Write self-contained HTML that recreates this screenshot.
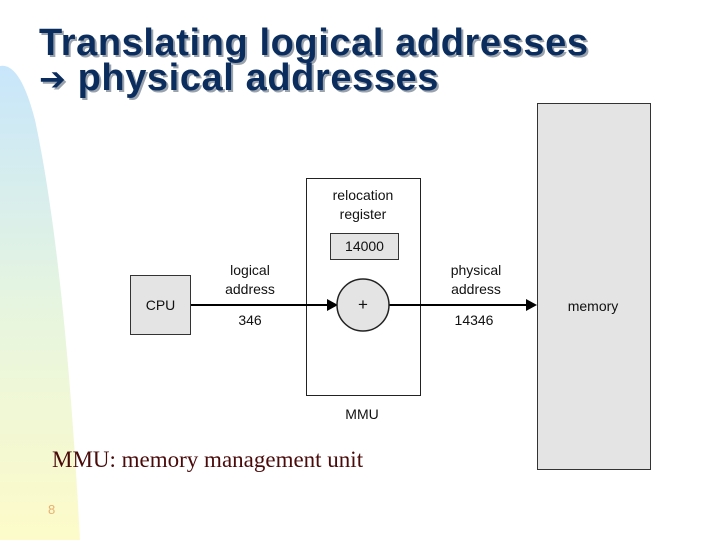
<!DOCTYPE html>
<html><head><meta charset="utf-8"><style>
body{margin:0;width:720px;height:540px;position:relative;overflow:hidden;background:#fff;font-family:"Liberation Sans",sans-serif}
.a{position:absolute}
.t{font-weight:bold;font-size:38px;color:#0b2d5e;text-shadow:2px 2px 0 #9aa3ad;line-height:36px;letter-spacing:0.6px;white-space:nowrap}
.s{font-size:14px;color:#111;text-align:center}
.box{position:absolute;background:#e4e4e4;border:1.5px solid #333;box-sizing:border-box}
</style></head><body>
<svg class="a" style="left:0;top:0" width="720" height="540">
<defs><linearGradient id="g" x1="0" y1="0" x2="0" y2="1">
<stop offset="0" stop-color="#c8e6fb"/><stop offset="0.5" stop-color="#e6f5e0"/><stop offset="1" stop-color="#fdfbc9"/></linearGradient></defs>
<path d="M0,66 Q20,62 35,120 Q65,260 80,540 L0,540 Z" fill="url(#g)"/>
</svg>
<div class="a t" style="left:39px;top:25px">Translating logical addresses</div>
<div class="a t" style="left:39px;top:60px"><span style="font-family:'DejaVu Sans',sans-serif;font-size:32px">&#x2794;</span> physical addresses</div>
<div class="box" style="left:537px;top:103px;width:114px;height:367px"></div>
<div class="a s" style="left:537px;top:298px;width:112px">memory</div>
<div class="box" style="left:130px;top:275px;width:61px;height:60px"></div>
<div class="a s" style="left:130px;top:297px;width:61px">CPU</div>
<div class="a" style="left:306px;top:178px;width:115px;height:218px;border:1.5px solid #222;box-sizing:border-box;background:#fff"></div>
<div class="a s" style="left:306px;top:186px;width:114px;line-height:19px">relocation<br>register</div>
<div class="box" style="left:330px;top:233px;width:69px;height:27px"></div>
<div class="a s" style="left:330px;top:238px;width:69px">14000</div>
<svg class="a" style="left:0;top:0" width="720" height="540">
<line x1="191" y1="305" x2="330" y2="305" stroke="#000" stroke-width="2"/>
<polygon points="327,299 338,305 327,311" fill="#000"/>
<line x1="388" y1="305" x2="528" y2="305" stroke="#000" stroke-width="2"/>
<polygon points="526,299 537,305 526,311" fill="#000"/>
<circle cx="363" cy="305" r="26" fill="#e4e4e4" stroke="#222" stroke-width="1.5"/>
</svg>
<div class="a s" style="left:348px;top:295px;width:30px;font-size:17px">+</div>
<div class="a s" style="left:210px;top:261px;width:80px;line-height:19px">logical<br>address</div>
<div class="a s" style="left:210px;top:312px;width:80px">346</div>
<div class="a s" style="left:436px;top:261px;width:80px;line-height:19px">physical<br>address</div>
<div class="a s" style="left:434px;top:312px;width:80px">14346</div>
<div class="a s" style="left:322px;top:406px;width:80px">MMU</div>
<div class="a" style="left:52px;top:447px;font-family:'Liberation Serif',serif;font-size:23px;color:#4a0a0a;white-space:nowrap">MMU: memory management unit</div>
<div class="a" style="left:48px;top:502px;font-size:13px;color:#e8b070">8</div>
</body></html>
